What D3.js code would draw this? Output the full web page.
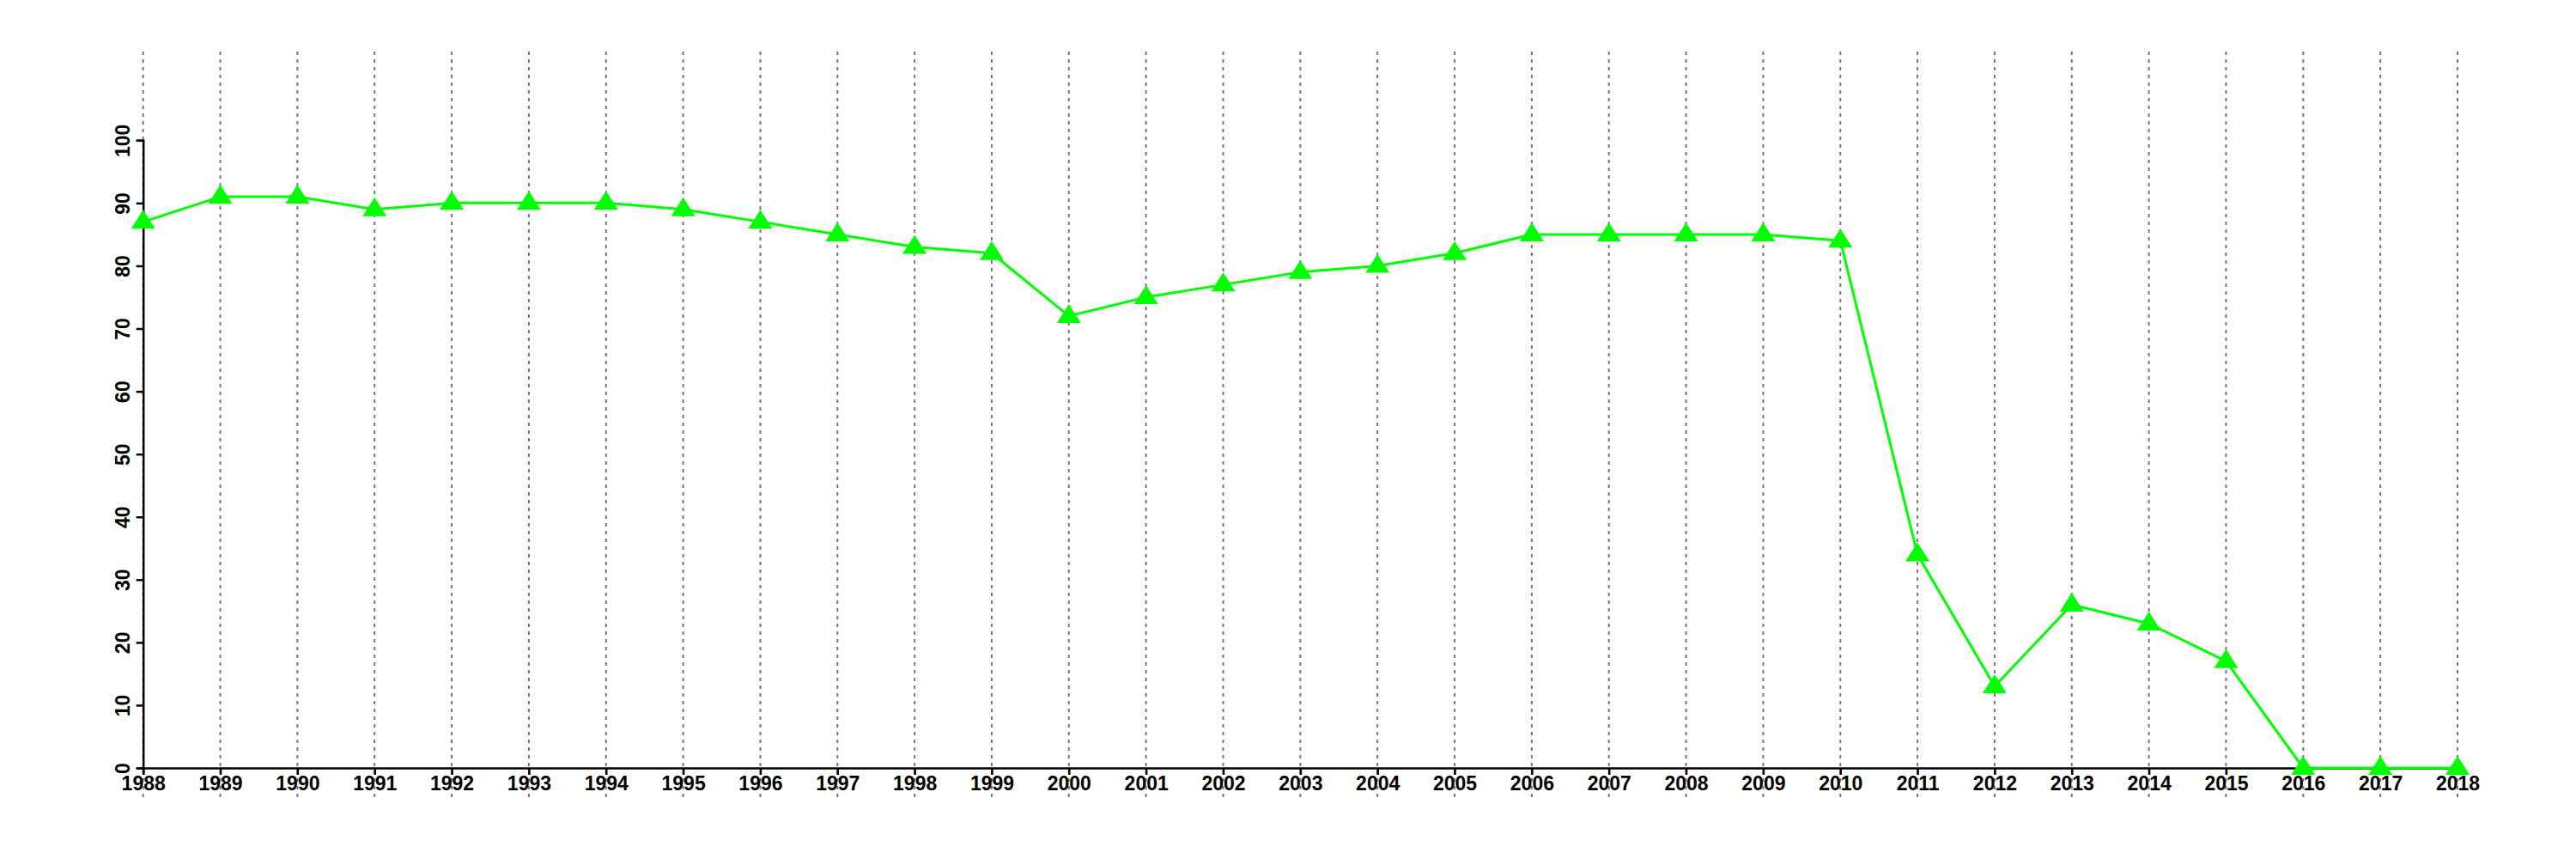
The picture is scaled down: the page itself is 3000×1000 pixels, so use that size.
<!DOCTYPE html>
<html>
<head>
<meta charset="utf-8">
<script src="https://cdn.jsdelivr.net/npm/d3@7"></script>
<style>
  html, body { margin: 0; padding: 0; background: #fff; }
  svg { display: block; }
</style>
</head>
<body>
<svg id="chart" width="3000" height="1000"></svg>
<script>
const years = [1988,1989,1990,1991,1992,1993,1994,1995,1996,1997,1998,1999,2000,2001,2002,2003,2004,2005,2006,2007,2008,2009,2010,2011,2012,2013,2014,2015,2016,2017,2018];
const values = [87,91,91,89,90,90,90,89,87,85,83,82,72,75,77,79,80,82,85,85,85,85,84,34,13,26,23,17,0,0,0];
const yTicks = [0,10,20,30,40,50,60,70,80,90,100];

const svg = d3.select("#chart");
const x = d3.scaleLinear().domain([1988, 2018]).range([166.7, 2862]);
const y = d3.scaleLinear().domain([0, 100]).range([894, 163.3]);
const font = "'Liberation Sans', Arial, Helvetica, sans-serif";

// vertical dotted gridlines
svg.append("g").selectAll("line").data(years).join("line")
  .attr("x1", d => x(d)).attr("x2", d => x(d))
  .attr("y1", 60).attr("y2", 928)
  .attr("stroke", "#777").attr("stroke-width", 2)
  .attr("stroke-dasharray", "4,5");

// x axis
const xAxis = svg.append("g").attr("transform", `translate(0,${y(0)})`)
  .call(d3.axisBottom(x).tickValues(years).tickFormat(d3.format("d")).tickSize(8).tickPadding(2));
xAxis.select(".domain").attr("stroke", "#000").attr("stroke-width", 2.5);
xAxis.selectAll(".tick line").attr("stroke", "#000").attr("stroke-width", 2.5);
xAxis.selectAll("text").attr("font-family", font).attr("font-size", 23).attr("font-weight", "bold").attr("fill", "#000");

// y axis
const yAxis = svg.append("g").attr("transform", `translate(${x(1988)},0)`)
  .call(d3.axisLeft(y).tickValues(yTicks).tickSize(8).tickPadding(0));
yAxis.select(".domain").attr("stroke", "#000").attr("stroke-width", 2.5);
yAxis.selectAll(".tick line").attr("stroke", "#000").attr("stroke-width", 2.5);
yAxis.selectAll("text")
  .attr("font-family", font).attr("font-size", 23).attr("font-weight", "bold").attr("fill", "#000")
  .attr("x", 0).attr("dy", 0)
  .attr("text-anchor", "middle")
  .attr("transform", "translate(-16,0) rotate(-90)");

// line
const line = d3.line().x((d, i) => x(years[i])).y(d => y(d));
svg.append("path").datum(values)
  .attr("d", line)
  .attr("fill", "none").attr("stroke", "#00ff00").attr("stroke-width", 3);

// triangle markers
const tri = "M0,-14L14,8L-14,8Z";
svg.append("g").selectAll("path").data(values).join("path")
  .attr("d", tri)
  .attr("transform", (d, i) => `translate(${x(years[i])},${y(d)})`)
  .attr("fill", "#00ff00");
</script>
</body>
</html>
